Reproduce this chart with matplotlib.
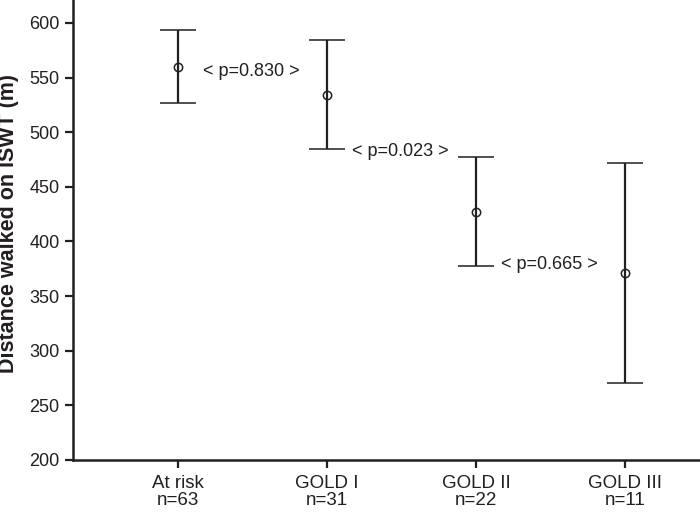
import matplotlib.pyplot as plt

plt.rcParams['font.family'] = ['Liberation Sans', 'DejaVu Sans']

# group labels and mean / 95% CI distance walked (m)
groups = ['At risk\nn=63', 'GOLD I\nn=31', 'GOLD II\nn=22', 'GOLD III\nn=11']
means = [560, 534, 427, 371]
upper = [593.5, 584.5, 477, 472]
lower = [526.5, 485, 377.5, 270]

# p-values between neighbouring groups
p_labels = ['< p=0.830 >', '< p=0.023 >', '< p=0.665 >']
p_y = [556, 482, 379]

x = list(range(1, len(groups) + 1))
err_lo = [m - l for m, l in zip(means, lower)]
err_hi = [u - m for m, u in zip(means, upper)]

fig = plt.figure(figsize=(7, 5.12), dpi=100)
ax = fig.add_axes([0.104, 0.1016, 0.896, 0.8984])

ax.errorbar(x, means, yerr=[err_lo, err_hi], fmt='o', color='#231f20',
            mfc='none', mec='#231f20', ms=6, mew=1.1,
            elinewidth=1.6, capsize=13, capthick=1.6)

for i, (lab, yy) in enumerate(zip(p_labels, p_y)):
    ax.text(x[i] + 0.49, yy, lab, ha='center', va='center',
            fontsize=13, color='#231f20')

ax.set_xlim(0.295, 4.5)
ax.set_ylim(200, 621)
ax.set_yticks([200, 250, 300, 350, 400, 450, 500, 550, 600])
ax.set_xticks(x)
ax.set_xticklabels(groups, fontsize=13.5, color='#231f20', linespacing=1.0)
ax.tick_params(axis='y', labelsize=13, labelcolor='#231f20', length=6, width=1.6, color='#231f20', pad=3.5)
ax.tick_params(axis='x', length=6, width=1.6, color='#231f20', pad=5)

ax.spines['top'].set_visible(False)
ax.spines['right'].set_visible(False)
for s in ['left', 'bottom']:
    ax.spines[s].set_linewidth(1.8)
    ax.spines[s].set_color('#231f20')

ax.set_ylabel('Distance walked on ISWT (m)', fontsize=15.5, fontweight='bold',
              color='#231f20')
ax.yaxis.set_label_coords(-0.085, 0.515)

fig.savefig('out.png', dpi=100)
